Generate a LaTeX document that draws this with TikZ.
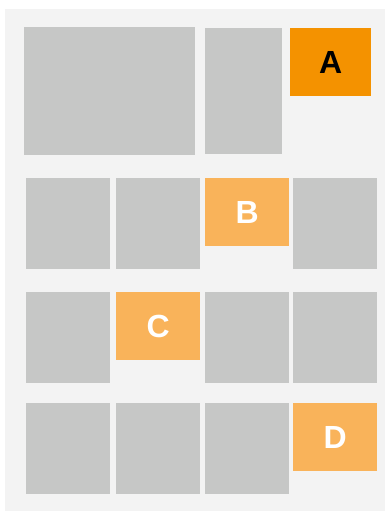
\documentclass[tikz,border=0pt]{standalone}
\usepackage{fontspec}
\setmainfont{Liberation Sans}
\definecolor{bggray}{HTML}{F3F3F3}
\definecolor{cellgray}{HTML}{C6C7C6}
\definecolor{darkorange}{HTML}{F49200}
\definecolor{lightorange}{HTML}{F9B35A}
\begin{document}
\begin{tikzpicture}[x=1pt,y=-1pt,
  cell/.style={fill=cellgray, draw=none, inner sep=0pt, anchor=north west},
  hot/.style={cell, fill=darkorange, text=black, font=\fontsize{32}{32}\selectfont\bfseries},
  warm/.style={cell, fill=lightorange, text=white, font=\fontsize{32}{32}\selectfont\bfseries}]
\useasboundingbox (0,0) rectangle (385,511);
\fill[bggray] (5,9) rectangle (385,511);
% row 1
\node[cell, minimum width=171pt, minimum height=128pt] (r1a) at (24,27) {};
\node[cell, minimum width=77pt, minimum height=126pt] (r1b) at (205,28) {};
\node[hot, minimum width=81pt, minimum height=68pt] (A) at (290,28) {A};
% row 2
\node[cell, minimum width=84pt, minimum height=90.7pt] (r2a) at (26,178) {};
\node[cell, minimum width=84pt, minimum height=90.7pt] (r2b) at (116,178) {};
\node[warm, minimum width=84pt, minimum height=68pt] (B) at (205,178) {B};
\node[cell, minimum width=84pt, minimum height=90.7pt] (r2d) at (293,178) {};
% row 3
\node[cell, minimum width=84pt, minimum height=91pt] (r3a) at (26,292) {};
\node[warm, minimum width=84pt, minimum height=68pt] (C) at (116,292) {C};
\node[cell, minimum width=84pt, minimum height=91pt] (r3c) at (205,292) {};
\node[cell, minimum width=84pt, minimum height=91pt] (r3d) at (293,292) {};
% row 4
\node[cell, minimum width=84pt, minimum height=91pt] (r4a) at (26,403) {};
\node[cell, minimum width=84pt, minimum height=91pt] (r4b) at (116,403) {};
\node[cell, minimum width=84pt, minimum height=91pt] (r4c) at (205,403) {};
\node[warm, minimum width=84pt, minimum height=68pt] (D) at (293,403) {D};
\end{tikzpicture}
\end{document}
